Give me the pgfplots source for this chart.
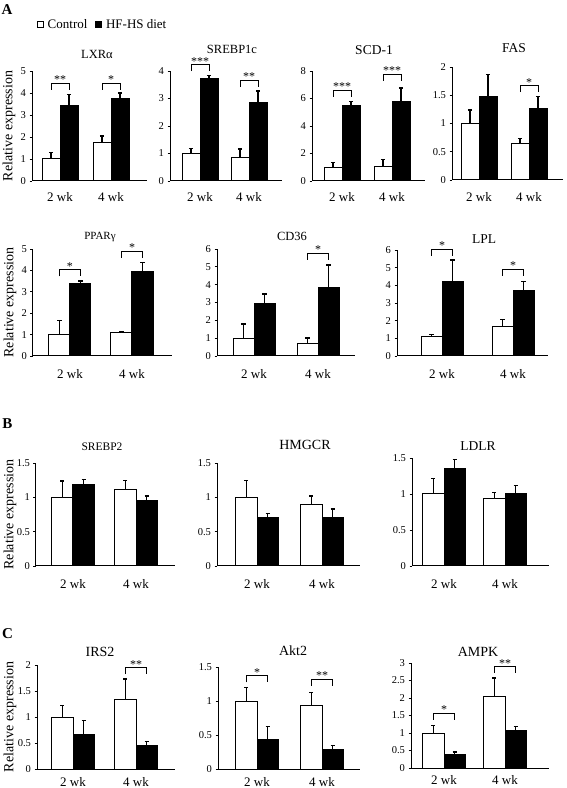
\documentclass[border=0pt]{standalone}
\usepackage{pgfplots}
\pgfplotsset{compat=1.18}
\usepackage{fontspec}
\setmainfont{Liberation Serif}
\newcommand{\fs}[1]{\fontsize{#1}{#1}\selectfont}
\newcommand{\sig}[5]{%
  \draw[line width=0.9pt] ([yshift=-6.5pt]axis cs:#1,#4) -- (axis cs:#1,#4) -- (axis cs:#2,#4) -- ([yshift=-6.5pt]axis cs:#2,#4);
  \node[font=\fs{12}, anchor=base, inner sep=0pt] at ([yshift=-0.5pt]axis cs:#3,#4) {#5};}
\pgfplotsset{
  panel/.style={scale only axis, anchor=south west, axis lines=left,
    axis line style={-, line width=1pt}, xmin=0, ymin=0, clip=false,
    tick align=outside, major tick length=2.5pt,
    ytick style={line width=0.8pt, black}, xtick style={draw=none},
    /pgf/number format/assume math mode=true,
    yticklabel style={font=\fs{10.5}},
    xticklabel style={font=\fs{13}, anchor=base},
    xticklabels={2 wk,4 wk},
    title style={anchor=base, at={(axis description cs:0.5,1)}},
    ylabel style={font=\fs{14}, anchor=center}},
  bars/.style={ybar, bar shift=0pt, draw=black, line width=1pt, forget plot,
    error bars/y dir=plus, error bars/y explicit,
    error bars/error bar style={line width=1.3pt},
    error bars/error mark options={rotate=90, mark size=2.2pt, line width=1.3pt}},
  ctrl/.style={fill=white, bars},
  hfhs/.style={fill=black, bars},
}
\begin{document}
\begin{tikzpicture}
\path[use as bounding box] (0,0) rectangle (566pt,788pt);
\node[font=\bfseries\fs{15}] at (7pt,778pt) {A};
\node[font=\bfseries\fs{15}] at (7.5pt,364pt) {B};
\node[font=\bfseries\fs{15}] at (7.5pt,154pt) {C};

% ---------------- Row A1 ----------------
\begin{axis}[panel, at={(32pt,607pt)}, width=115pt, height=110pt, xmax=115, ymax=5,
  ytick={0,1,2,3,4,5}, xtick={28,79}, bar width=18,
  title={LXRα}, title style={xshift=7.5pt, yshift=7pt, font=\fs{12.5}},
  ylabel={Relative expression}, ylabel style={at={(axis description cs:-0.2,0.5)}},
  xticklabel style={yshift=-18.5pt},
  legend style={at={(axis description cs:0.043,1.42)}, anchor=west, draw=none, fill=none,
    inner sep=0pt, font=\fs{13}, legend columns=2,
    /tikz/every even column/.append style={column sep=6pt}},
  legend image code/.code={\draw[line width=0.8pt,#1] (0pt,-3pt) rectangle (6pt,3pt); \path (8pt,0pt);}]
\addlegendimage{draw=black, fill=white}\addlegendentry{Control}
\addlegendimage{draw=black, fill=black}\addlegendentry{HF-HS diet}
\addplot[ctrl] coordinates {(19,1.00) +- (0,0.28) (70,1.77) +- (0,0.27)};
\addplot[hfhs] coordinates {(37,3.44) +- (0,0.48) (88,3.77) +- (0,0.23)};
\sig{19}{37}{28}{4.45}{**}
\sig{70}{88}{79}{4.45}{*}
\end{axis}

\begin{axis}[panel, at={(170pt,607pt)}, width=112pt, height=110pt, xmax=112, ymax=4,
  ytick={0,1,2,3,4}, xtick={30,79}, bar width=18,
  title={SREBP1c}, title style={xshift=6pt, yshift=11pt, font=\fs{12.5}},
  xticklabel style={yshift=-18.5pt}]
\addplot[ctrl] coordinates {(21,1.00) +- (0,0.17) (70,0.85) +- (0,0.31)};
\addplot[hfhs] coordinates {(39,3.71) +- (0,0.13) (88,2.84) +- (0,0.43)};
\sig{21}{39}{30}{4.23}{***}
\sig{70}{88}{79}{3.66}{**}
\end{axis}

\begin{axis}[panel, at={(312pt,607pt)}, width=113pt, height=110pt, xmax=113, ymax=8,
  ytick={0,2,4,6,8}, xtick={30,80}, bar width=18,
  title={SCD-1}, title style={xshift=5.5pt, yshift=10pt, font=\fs{13.5}},
  xticklabel style={yshift=-18.5pt}]
\addplot[ctrl] coordinates {(21,1.00) +- (0,0.35) (71,1.09) +- (0,0.48)};
\addplot[hfhs] coordinates {(39,5.50) +- (0,0.30) (89,5.80) +- (0,0.96)};
\sig{21}{39}{30}{6.6}{***}
\sig{71}{89}{80}{7.75}{***}
\end{axis}

\begin{axis}[panel, at={(452pt,608pt)}, width=111pt, height=113pt, xmax=111, ymax=2,
  ytick={0,0.5,1,1.5,2}, xtick={27,77}, bar width=18,
  title={FAS}, title style={xshift=6.5pt, yshift=8pt, font=\fs{13.5}},
  xticklabel style={yshift=-19.5pt}]
\addplot[ctrl] coordinates {(18,1.00) +- (0,0.24) (68,0.65) +- (0,0.09)};
\addplot[hfhs] coordinates {(36,1.48) +- (0,0.39) (86,1.27) +- (0,0.21)};
\sig{68}{86}{77}{1.67}{*}
\end{axis}

% ---------------- Row A2 ----------------
\begin{axis}[panel, at={(33pt,432pt)}, width=139pt, height=107pt, xmax=139, ymax=5,
  ytick={0,1,2,3,4,5}, xtick={37,99}, bar width=21,
  title={PPARγ}, title style={xshift=-2.5pt, yshift=4pt, font=\fs{11}},
  ylabel={Relative expression}, ylabel style={at={(axis description cs:-0.165,0.5)}},
  xticklabel style={yshift=-20.5pt}]
\addplot[ctrl] coordinates {(26.5,1.00) +- (0,0.66) (88.5,1.10) +- (0,0.06)};
\addplot[hfhs] coordinates {(47.5,3.37) +- (0,0.14) (109.5,3.95) +- (0,0.42)};
\sig{26.5}{47.5}{37}{4.03}{*}
\sig{88.5}{109.5}{99}{4.9}{*}
\end{axis}

\begin{axis}[panel, at={(217pt,432pt)}, width=138pt, height=107pt, xmax=138, ymax=6,
  ytick={0,1,2,3,4,5,6}, xtick={37,101}, bar width=21,
  title={CD36}, title style={xshift=6pt, yshift=2pt, font=\fs{12.5}},
  xticklabel style={yshift=-20.5pt}]
\addplot[ctrl] coordinates {(26.5,1.00) +- (0,0.80) (90.5,0.70) +- (0,0.31)};
\addplot[hfhs] coordinates {(47.5,2.95) +- (0,0.53) (111.5,3.85) +- (0,1.26)};
\sig{90.5}{111.5}{101}{5.77}{*}
\end{axis}

\begin{axis}[panel, at={(397pt,432pt)}, width=151pt, height=106pt, xmax=151, ymax=6,
  ytick={0,1,2,3,4,5,6}, xtick={45,116}, bar width=21,
  title={LPL}, title style={xshift=11.5pt, yshift=0.5pt, font=\fs{13.5}},
  xticklabel style={yshift=-20.5pt}]
\addplot[ctrl] coordinates {(34.5,1.12) +- (0,0.09) (105.5,1.65) +- (0,0.41)};
\addplot[hfhs] coordinates {(55.5,4.20) +- (0,1.24) (126.5,3.69) +- (0,0.51)};
\sig{34.5}{55.5}{45}{6.04}{*}
\sig{105.5}{126.5}{116}{4.9}{*}
\end{axis}

% ---------------- Row B ----------------
\begin{axis}[panel, at={(36pt,222pt)}, width=139pt, height=103pt, xmax=139, ymax=1.5,
  ytick={0,0.5,1,1.5}, xtick={37,100}, bar width=21.5,
  title={SREBP2}, title style={xshift=-3.5pt, yshift=6.5pt, font=\fs{11.5}},
  ylabel={Relative expression}, ylabel style={at={(axis description cs:-0.187,0.5)}},
  xticklabel style={yshift=-20pt}]
\addplot[ctrl] coordinates {(26.25,1.00) +- (0,0.24) (89.25,1.12) +- (0,0.13)};
\addplot[hfhs] coordinates {(47.75,1.18) +- (0,0.08) (110.75,0.95) +- (0,0.07)};
\end{axis}

\begin{axis}[panel, at={(217pt,222pt)}, width=143pt, height=103pt, xmax=143, ymax=1.5,
  ytick={0,0.5,1,1.5}, xtick={40,105}, bar width=21.5,
  title={HMGCR}, title style={xshift=16.5pt, yshift=7.5pt, font=\fs{14}},
  xticklabel style={yshift=-20pt}]
\addplot[ctrl] coordinates {(29.25,1.00) +- (0,0.25) (94.25,0.90) +- (0,0.12)};
\addplot[hfhs] coordinates {(50.75,0.71) +- (0,0.05) (115.75,0.71) +- (0,0.12)};
\end{axis}

\begin{axis}[panel, at={(412pt,222pt)}, width=137pt, height=108pt, xmax=137, ymax=1.5,
  ytick={0,0.5,1,1.5}, xtick={32,93}, bar width=21.5,
  title={LDLR}, title style={xshift=-2.5pt, yshift=1.5pt, font=\fs{13.5}},
  xticklabel style={yshift=-20pt}]
\addplot[ctrl] coordinates {(21.25,1.00) +- (0,0.22) (82.25,0.94) +- (0,0.08)};
\addplot[hfhs] coordinates {(42.75,1.35) +- (0,0.13) (103.75,1.00) +- (0,0.12)};
\end{axis}

% ---------------- Row C ----------------
\begin{axis}[panel, at={(37pt,19pt)}, width=138pt, height=104pt, xmax=138, ymax=2,
  ytick={0,0.5,1,1.5,2}, xtick={36,99}, bar width=21.5,
  title={IRS2}, title style={xshift=-6pt, yshift=2.5pt, font=\fs{14}},
  ylabel={Relative expression}, ylabel style={at={(axis description cs:-0.196,0.5)}},
  xticklabel style={yshift=-15pt}]
\addplot[ctrl] coordinates {(25.25,1.00) +- (0,0.22) (88.25,1.34) +- (0,0.39)};
\addplot[hfhs] coordinates {(46.75,0.67) +- (0,0.26) (109.75,0.45) +- (0,0.08)};
\sig{88.25}{109.75}{99}{1.95}{**}
\end{axis}

\begin{axis}[panel, at={(218pt,19pt)}, width=142pt, height=102pt, xmax=142, ymax=1.5,
  ytick={0,0.5,1,1.5}, xtick={39,104}, bar width=21.5,
  title={Akt2}, title style={xshift=4pt, yshift=5.5pt, font=\fs{14}},
  xticklabel style={yshift=-15pt}]
\addplot[ctrl] coordinates {(28.25,1.00) +- (0,0.20) (93.25,0.93) +- (0,0.20)};
\addplot[hfhs] coordinates {(49.75,0.43) +- (0,0.19) (114.75,0.28) +- (0,0.07)};
\sig{28.25}{49.75}{39}{1.37}{*}
\sig{93.25}{114.75}{104}{1.32}{**}
\end{axis}

\begin{axis}[panel, at={(411pt,20pt)}, width=138pt, height=105pt, xmax=138, ymax=3,
  ytick={0,0.5,1,1.5,2,2.5,3}, xtick={33,94}, bar width=21.5,
  title={AMPK}, title style={xshift=-2pt, yshift=1pt, font=\fs{14}},
  xticklabel style={yshift=-14pt}]
\addplot[ctrl] coordinates {(22.25,1.00) +- (0,0.21) (83.25,2.03) +- (0,0.54)};
\addplot[hfhs] coordinates {(43.75,0.40) +- (0,0.06) (104.75,1.06) +- (0,0.12)};
\sig{22.25}{43.75}{33}{1.56}{*}
\sig{83.25}{104.75}{94}{2.9}{**}
\end{axis}
\end{tikzpicture}
\end{document}
